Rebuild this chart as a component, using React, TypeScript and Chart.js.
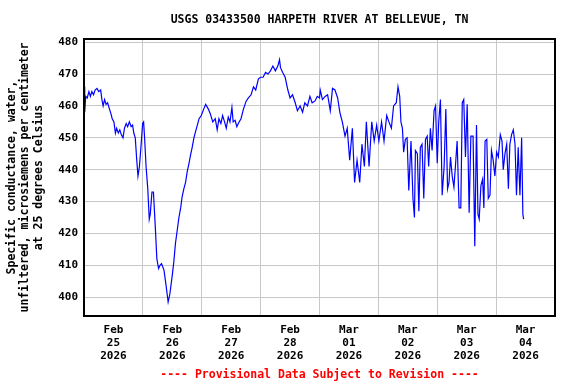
import React, { useEffect, useRef } from 'react';
import { Chart, registerables } from 'chart.js';

Chart.register(...registerables);

const chartTitle = 'USGS 03433500 HARPETH RIVER AT BELLEVUE, TN';
const footerText = '---- Provisional Data Subject to Revision ----';
const yAxisTitle = [
  'Specific conductance, water,',
  'unfiltered, microsiemens per centimeter',
  'at 25 degrees Celsius',
];
const tickMonths = ['Feb', 'Feb', 'Feb', 'Feb', 'Mar', 'Mar', 'Mar', 'Mar'];
const tickDays = ['25', '26', '27', '28', '01', '02', '03', '04'];
const tickYear = '2026';
const yTicks = [400, 410, 420, 430, 440, 450, 460, 470, 480];

// hours since 2026-02-25 00:00
const hoursSinceStart = [
  0, 0.3, 0.7, 1.3, 2, 2.6, 3.2, 3.9, 4.5, 5.3, 6, 6.8, 7.3, 7.8, 8.4, 9, 9.6, 10.4, 11, 11.5,
  12.2, 12.8, 13.3, 14, 14.6, 15.2, 15.9, 16.5, 17.2, 17.8, 18.5, 19.2, 19.8, 20.3, 20.9, 21.5, 22, 22.6, 23.2, 23.9,
  24.3, 24.7, 25.3, 26, 26.6, 27, 27.7, 28.3, 29, 29.7, 30.4, 31, 31.6, 32.6, 33.4, 34.3, 35, 36, 36.6, 37.3,
  38, 38.7, 39.4, 40, 40.7, 41.4, 42.1, 42.8, 43.4, 44.1, 44.8, 45.5, 46.2, 46.9, 47.8, 48.8, 49.6, 50.7, 51.5, 52.5,
  53.5, 54.3, 55, 55.8, 56.5, 57.3, 58, 58.8, 59.5, 60.3, 60.8, 61.6, 62.3, 62.9, 64, 65, 66.1, 67, 68.1, 69.1,
  70, 71.1, 72, 73, 74, 75, 76, 77, 78, 79, 79.7, 80.1, 81, 82, 83.1, 84, 85, 86.1, 87, 88.1,
  89.1, 90, 91.1, 92.1, 93, 94.1, 95.1, 96, 96.3, 97.2, 98.3, 99.3, 100.4, 101.3, 102.3, 103.4, 104.3, 105.3, 106.4, 107.3,
  108.3, 109.4, 110.3, 111.3, 112.4, 113.3, 114.3, 115.1, 116.2, 117.3, 118.3, 119.3, 120.2, 121.3, 122.3, 123.4, 124.3, 125.3, 126.2, 127.3,
  128, 128.7, 129.2, 129.8, 130.3, 131, 131.7, 132.4, 133.3, 134.1, 134.7, 135.1, 135.9, 136.5, 137.1, 137.8, 138.5, 139.2, 139.9, 140.5,
  141.2, 141.9, 142.7, 143.3, 144, 144.6, 145.3, 146, 146.8, 147.5, 148.2, 148.8, 149.4, 150.1, 150.8, 151.4, 152.1, 152.9, 153.6, 154.2,
  154.8, 155.5, 156.2, 157, 157.7, 158.6, 159.3, 160, 160.6, 161.1, 161.8, 162.5, 163, 163.5, 164.2, 164.8, 165.5, 166.1, 166.8, 167.5,
  168.2, 168.9, 169.7, 170.4, 170.9, 171.6, 172.3, 173, 173.6, 174.3, 175, 175.7, 176.3, 177, 177.7, 178.4, 178.9, 179.2,
];

const conductance = [
  466, 458, 463, 462.5, 464.5, 463, 464.5, 463.5, 465, 465.5, 464.5, 465, 462, 460, 462, 460.5, 461, 459, 457.5, 456,
  455, 451.5, 453, 451.5, 452.5, 451, 450, 453, 454.5, 453.5, 455, 453.5, 454, 451.5, 450, 443, 438, 441, 447, 454.5,
  455, 450, 441, 434, 424.5, 426, 433, 433, 423, 412, 409, 410, 410.5, 408.5, 404, 398.5, 401, 407, 411, 417,
  421, 425, 428, 431.5, 434, 436, 439.5, 442, 444.5, 447, 450, 452, 454, 456, 457, 459, 460.5, 459, 457.5, 455,
  456, 452.5, 456, 454.5, 457, 455, 453, 456.5, 455, 459.5, 455, 455.5, 453.5, 454.5, 456, 459, 461.5, 462.5, 463.5, 466,
  465, 468.5, 469, 469, 470.5, 470, 471, 472.5, 471, 472.5, 474.5, 472, 470.5, 469, 465, 462.5, 463.5, 461, 458.5, 460,
  458, 461, 460, 463, 461, 461.5, 463, 462.5, 465, 462, 463, 463.5, 458.5, 465.5, 465, 462.5, 458, 455, 450.5, 453,
  443, 453, 436, 443, 436, 448, 441, 455, 441, 455, 449, 454, 449, 455, 449, 457, 455, 453, 460, 461,
  466, 463, 455, 453, 445.5, 449.5, 450, 433.5, 449, 431, 425, 446, 445, 427, 447, 448, 431, 449.5, 450.5, 441,
  453, 446, 458.5, 460, 442, 455, 462, 432, 441, 459, 434, 436, 444, 438, 434.5, 441, 449, 428, 428, 461,
  462, 444, 460.5, 426.5, 450.5, 450.5, 416, 454, 426, 424.5, 435, 437, 428, 449, 449.5, 431, 432, 446, 443, 438,
  445.5, 444, 451, 449, 440, 445, 448, 434, 448, 451, 452.5, 448, 432, 447, 432, 450, 426, 424.5,
];

const FONT_FAMILY = "'DejaVu Sans Mono', 'Liberation Mono', monospace";

const decorPlugin = {
  id: 'decor',
  afterDraw(chart: any) {
    const { ctx, chartArea: a } = chart;
    ctx.save();
    ctx.strokeStyle = '#000000';
    ctx.lineWidth = 2;
    ctx.strokeRect(a.left, a.top, a.right - a.left, a.bottom - a.top);
    ctx.font = `bold 11.5px ${FONT_FAMILY}`;
    ctx.textAlign = 'center';
    ctx.textBaseline = 'middle';
    ctx.fillStyle = '#000000';
    ctx.fillText(chartTitle, (a.left + a.right) / 2, 20);
    ctx.fillStyle = '#ff0000';
    ctx.fillText(footerText, (a.left + a.right) / 2, 375);
    ctx.restore();
  },
};

export default function App() {
  const canvasRef = useRef<HTMLCanvasElement | null>(null);

  useEffect(() => {
    document.body.style.margin = '0';
    const canvas = canvasRef.current;
    if (!canvas) return;
    const points = hoursSinceStart.map((h, i) => ({ x: h, y: conductance[i] }));
    const chart = new Chart(canvas, {
      type: 'line',
      data: {
        datasets: [
          {
            data: points,
            borderColor: '#0000ff',
            borderWidth: 1.2,
            pointRadius: 0,
            tension: 0,
            fill: false,
          },
        ],
      },
      options: {
        animation: false,
        responsive: false,
        devicePixelRatio: 1,
        layout: { padding: { left: 0, top: 39, right: 21, bottom: 0 } },
        plugins: {
          legend: { display: false },
          tooltip: { enabled: false },
        },
        scales: {
          x: {
            type: 'linear',
            min: 0,
            max: 192,
            afterBuildTicks: (scale: any) => {
              const t = [];
              for (let v = 0; v <= 192; v += 12) t.push({ value: v });
              scale.ticks = t;
            },
            afterFit: (scale: any) => {
              scale.height = 68;
            },
            ticks: {
              autoSkip: false,
              maxRotation: 0,
              minRotation: 0,
              padding: 7.5,
              color: '#000000',
              font: { family: FONT_FAMILY, size: 11, weight: 'bold', lineHeight: '13px' },
              callback: (v: any) => {
                const n = Number(v);
                if (n % 24 !== 12) return '';
                const idx = Math.floor(n / 24);
                return [tickMonths[idx], tickDays[idx], tickYear];
              },
            },
            grid: {
              drawTicks: false,
              lineWidth: 1,
              color: (c: any) =>
                c.tick && c.tick.value % 24 === 0 ? '#c8c8c8' : 'rgba(0,0,0,0)',
            },
            border: { display: false },
          },
          y: {
            type: 'linear',
            min: 394.1,
            max: 481,
            afterBuildTicks: (scale: any) => {
              scale.ticks = yTicks.map((v) => ({ value: v }));
            },
            afterFit: (scale: any) => {
              scale.width = 84;
            },
            ticks: {
              padding: 6,
              color: '#000000',
              font: { family: FONT_FAMILY, size: 11, weight: 'bold' },
            },
            grid: {
              drawTicks: false,
              lineWidth: 1,
              color: '#c8c8c8',
            },
            border: { display: false },
            title: {
              display: true,
              text: yAxisTitle,
              color: '#000000',
              font: { family: FONT_FAMILY, size: 11.5, weight: 'bold', lineHeight: '13.5px' },
              padding: { top: 5.25, bottom: 0 },
            },
          },
        },
      },
      plugins: [decorPlugin],
    } as any);
    return () => chart.destroy();
  }, []);

  return (
    <div style={{ position: 'absolute', left: 0, top: 0, width: 576, height: 384, background: '#ffffff' }}>
      <canvas ref={canvasRef} width={576} height={384} />
    </div>
  );
}
